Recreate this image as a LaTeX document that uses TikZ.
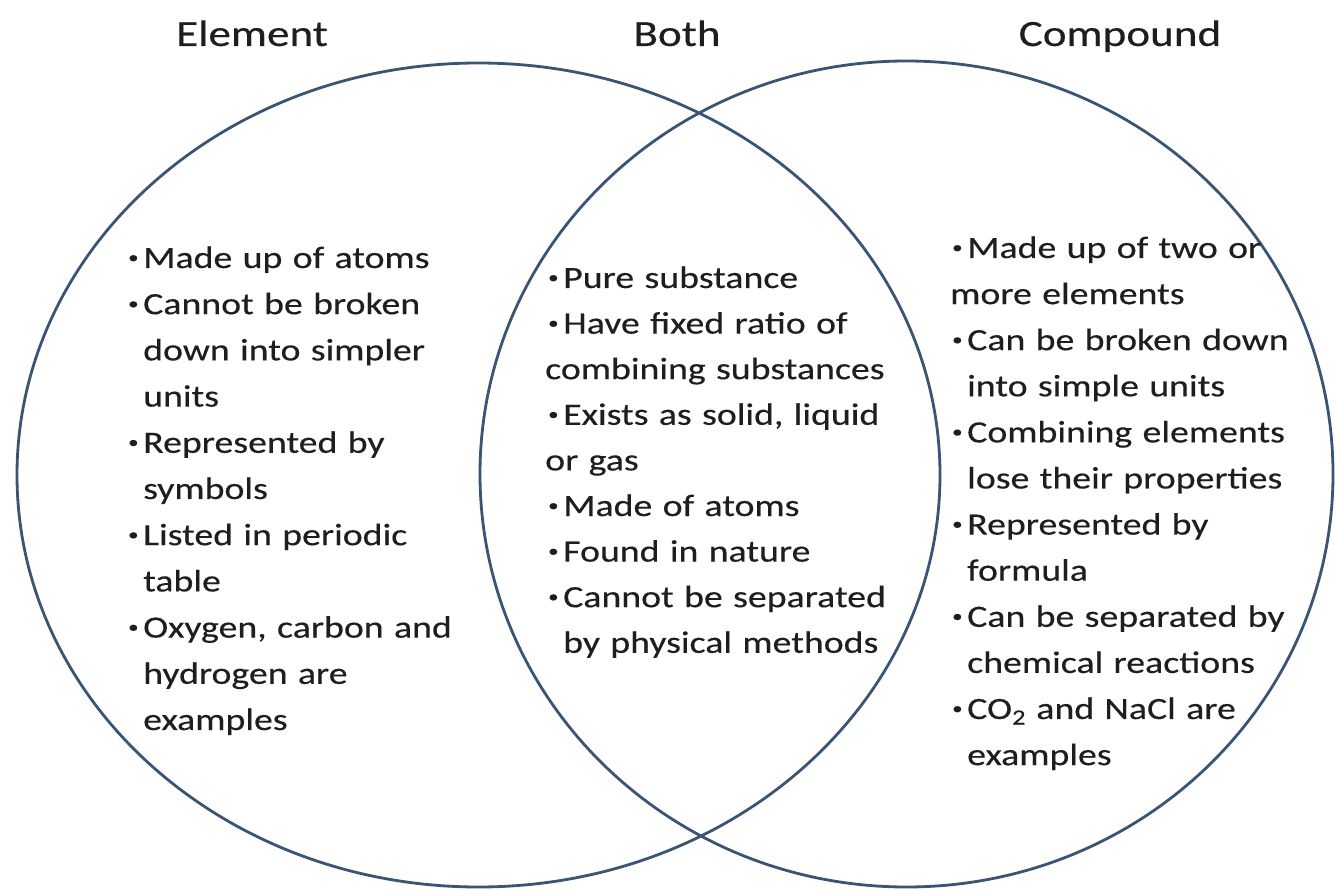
\documentclass[tikz,border=0pt]{standalone}
\usepackage{fontspec}
\setmainfont{Carlito}[FakeStretch=1.22,FakeBold=0.3]
\newcommand\bul{\makebox[15pt][l]{\raisebox{5pt}{\fontsize{17}{17}\selectfont\textbullet}}}
\newcommand\ind{\hspace*{15pt}}
\definecolor{ringcol}{HTML}{3A5474}
\definecolor{ink}{HTML}{1E1E1E}
\begin{document}
\begin{tikzpicture}[x=1pt,y=-1pt,
  ring/.style={draw=ringcol, line width=2.8pt},
  head/.style={font=\fontsize{37}{37}\selectfont, text=ink, inner sep=0pt, anchor=base},
  col/.style={font=\fontsize{31}{#1}\selectfont, text=ink, inner sep=0pt, anchor=base west, text width=420pt, align=left}]
\useasboundingbox[fill=white] (0,0) rectangle (1335,890);
\draw[ring] (478.5,475) ellipse [x radius=461.5pt, y radius=412pt];
\draw[ring] (906.5,474) ellipse [x radius=426.5pt, y radius=413pt];
\node[head] (element) at (252,46) {Element};
\node[head] (both) at (677,46) {Both};
\node[head] (compound) at (1120,46) {Compound};
\node[col=46.2pt] (left) at (128,268) {\bul Made up of atoms\\
\bul Cannot be broken\\
\ind down into simpler\\
\ind units\\
\bul Represented by\\
\ind symbols\\
\bul Listed in periodic\\
\ind table\\
\bul Oxygen, carbon and\\
\ind hydrogen are\\
\ind examples};
\node[col=45.6pt] (middle) at (548,288) {\bul Pure substance\\
\bul Have fixed ratio of\\
\hspace*{-3pt}combining substances\\
\bul Exists as solid, liquid\\
\hspace*{-3pt}or gas\\
\bul Made of atoms\\
\bul Found in nature\\
\bul Cannot be separated\\
\ind by physical methods};
\node[col=46.1pt] (right) at (952,258) {\bul Made up of two or\\
\hspace*{-2pt}more elements\\
\bul Can be broken down\\
\ind into simple units\\
\bul Combining elements\\
\ind lose their properties\\
\bul Represented by\\
\ind formula\\
\bul Can be separated by\\
\ind chemical reactions\\
\bul CO\textsubscript{2} and NaCl are\\
\ind examples};
\end{tikzpicture}
\end{document}
